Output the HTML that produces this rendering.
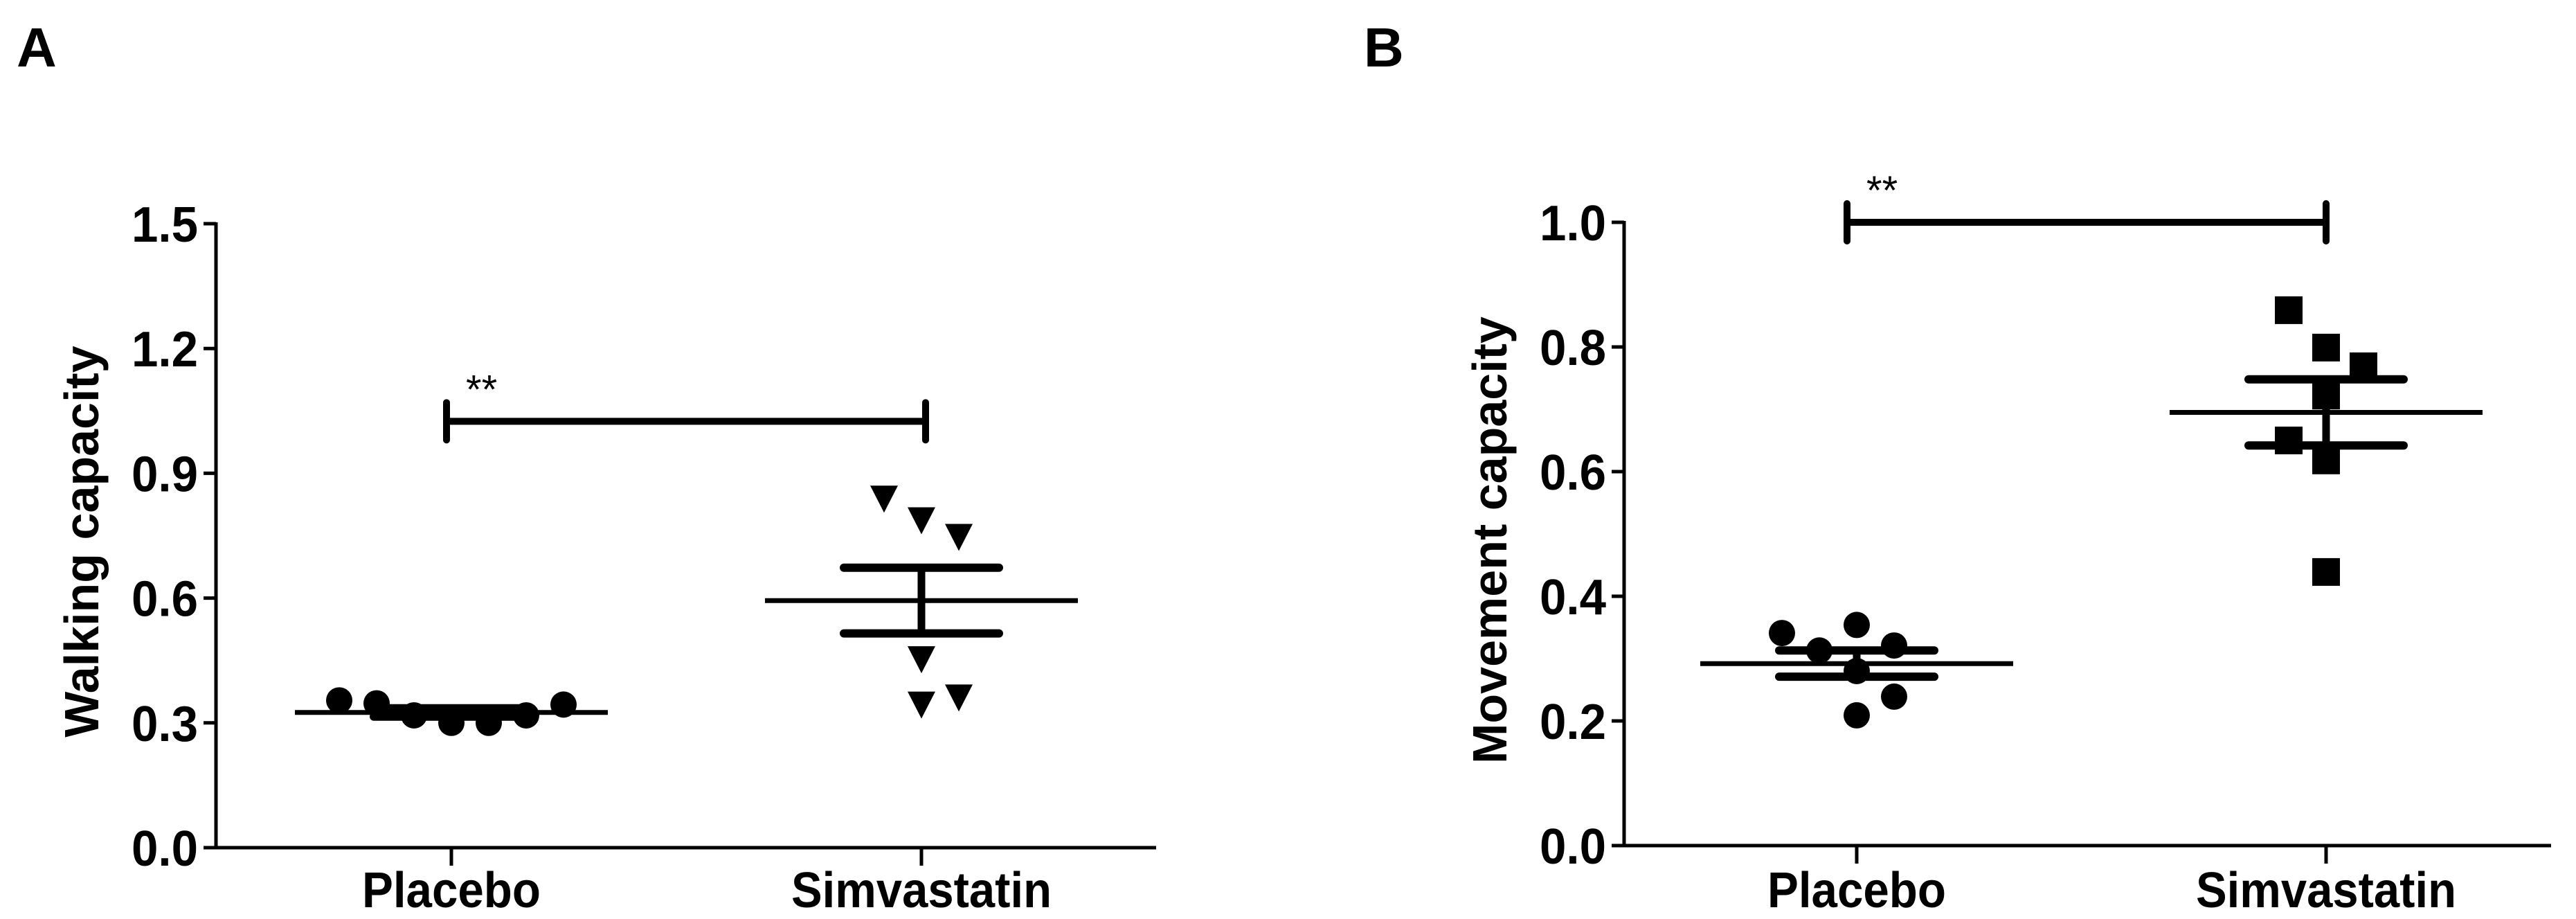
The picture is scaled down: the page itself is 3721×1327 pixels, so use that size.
<!DOCTYPE html>
<html><head><meta charset="utf-8"><style>
html,body{margin:0;padding:0;background:#fff}
svg{display:block}
text{font-family:"Liberation Sans",Arial,sans-serif;fill:#000}
</style></head><body>
<svg id="fig" width="3721" height="1327" viewBox="0 0 3721 1327" xmlns="http://www.w3.org/2000/svg">
<text x="24" y="96" font-size="80" font-weight="bold">A</text>
<text x="1970" y="96" font-size="80" font-weight="bold">B</text>
<text transform="translate(142,782) rotate(-90)" text-anchor="middle" font-size="70" font-weight="bold">Walking capacity</text>
<text transform="translate(2176,780) rotate(-90)" text-anchor="middle" font-size="70" font-weight="bold">Movement capacity</text>
</svg>
<script>
const categories = ["Placebo", "Simvastatin"];
const aTicks = [0.0, 0.3, 0.6, 0.9, 1.2, 1.5];
const aTickLabels = ["0.0", "0.3", "0.6", "0.9", "1.2", "1.5"];
const aPlacebo = [0.354, 0.347, 0.318, 0.300, 0.300, 0.318, 0.344];
const aPlaceboOffsets = [-3, -2, -1, 0, 1, 2, 3];
const aSimva = [0.842, 0.790, 0.750, 0.456, 0.364, 0.347];
const aSimvaOffsets = [-1, 0, 1, 0, 1, 0];
const aMean = [0.325, 0.594];
const aSem = [0.010, 0.079];
const aSig = 1.025;

const bTicks = [0.0, 0.2, 0.4, 0.6, 0.8, 1.0];
const bTickLabels = ["0.0", "0.2", "0.4", "0.6", "0.8", "1.0"];
const bPlacebo = [0.341, 0.313, 0.354, 0.321, 0.280, 0.239, 0.209];
const bPlaceboOffsets = [-2, -1, 0, 1, 0, 1, 0];
const bSimva = [0.859, 0.799, 0.769, 0.722, 0.650, 0.618, 0.439];
const bSimvaOffsets = [-1, 0, 1, 0, -1, 0, 0];
const bMean = [0.292, 0.695];
const bSem = [0.021, 0.053];
const bSig = 1.0;

const svg = document.getElementById('fig');
const NS = "http://www.w3.org/2000/svg";
function mk(tag, attrs, parent) {
  const e = document.createElementNS(NS, tag);
  for (const k in attrs) e.setAttribute(k, attrs[k]);
  (parent || svg).appendChild(e);
  return e;
}

function panel(cfg) {
  const g = mk('g', {});
  
  
  const y = v => cfg.y0 - (v - cfg.vmin) / (cfg.vmax - cfg.vmin) * (cfg.y0 - cfg.y1);
  const xc = i => cfg.xCats[i];
  const ya = mk('line', {x1: cfg.ax, y1: y(cfg.vmax) - 2, x2: cfg.ax, y2: cfg.y0 + 2, stroke: '#000', 'stroke-width': 5}, g);
  
  
  const xa = mk('line', {x1: cfg.ax - 2, y1: cfg.y0, x2: cfg.xEnd, y2: cfg.y0, stroke: '#000', 'stroke-width': 5}, g);
  
  
  cfg.ticks.forEach((t, i) => {
    const tl = mk('line', {x1: cfg.ax - 18, y1: y(t), x2: cfg.ax, y2: y(t), stroke: '#000', 'stroke-width': 5}, g);
    
    
    const tx = mk('text', {x: cfg.ax - 26, y: y(t) + 26, 'text-anchor': 'end', 'font-size': 72, 'font-weight': 'bold', textLength: 96, lengthAdjust: 'spacingAndGlyphs'}, g);
    tx.textContent = cfg.tickLabels[i];
    
    
  });
  categories.forEach((c, i) => {
    const tl = mk('line', {x1: xc(i), y1: cfg.y0, x2: xc(i), y2: cfg.y0 + 26, stroke: '#000', 'stroke-width': 5}, g);
    
    
    const tx = mk('text', {x: xc(i), y: 1310, 'text-anchor': 'middle', 'font-size': 72, 'font-weight': 'bold', textLength: i === 0 ? 258 : 376, lengthAdjust: 'spacingAndGlyphs'}, g);
    tx.textContent = c;
    
    
  });
  cfg.pl.forEach((v, k) => {
    const p = mk('circle', {cx: xc(0) + cfg.plOff[k] * 54, cy: y(v), r: 19, fill: '#000'}, g);
    
    
  });
  cfg.sv.forEach((v, k) => {
    const cx = xc(1) + cfg.svOff[k] * 54, cy = y(v);
    let p;
    if (cfg.marker === 'tri') {
      p = mk('polygon', {points: `${cx-20},${cy-17} ${cx+20},${cy-17} ${cx},${cy+22}`, fill: '#000'}, g);
    } else {
      p = mk('rect', {x: cx - 20, y: cy - 20, width: 40, height: 40, fill: '#000'}, g);
    }
    
    
  });
  [0, 1].forEach(i => {
    const m = mk('line', {x1: xc(i) - 226, y1: y(cfg.mean[i]), x2: xc(i) + 226, y2: y(cfg.mean[i]), stroke: '#000', 'stroke-width': 7}, g);
    
    
    const hi = cfg.mean[i] + cfg.sem[i], lo = cfg.mean[i] - cfg.sem[i];
    const v = mk('line', {x1: xc(i), y1: y(hi), x2: xc(i), y2: y(lo), stroke: '#000', 'stroke-width': 11}, g);
    
    
    [hi, lo].forEach(s => {
      const c = mk('line', {x1: xc(i) - 112, y1: y(s), x2: xc(i) + 112, y2: y(s), stroke: '#000', 'stroke-width': 12, 'stroke-linecap': 'round'}, g);
      
      
    });
  });
  const sy = y(cfg.sig);
  const sb = mk('path', {d: `M${cfg.sigX[0]},${sy} H${cfg.sigX[1]} M${cfg.sigX[0]},${sy-27} V${sy+27} M${cfg.sigX[1]},${sy-27} V${sy+27}`, stroke: '#000', 'stroke-width': 10, 'stroke-linecap': 'round', fill: 'none'}, g);
  
  
  const st = mk('text', {x: cfg.sigX[0] + 28, y: sy - 26, 'font-size': 58}, g);
  st.textContent = '**';
  
  
}

panel({name: 'panel-a-walking', ax: 312, y0: 1224, y1: 323, vmin: 0, vmax: 1.5, xEnd: 1670, xCats: [652, 1331],
  ticks: aTicks, tickLabels: aTickLabels, pl: aPlacebo, plOff: aPlaceboOffsets, sv: aSimva, svOff: aSimvaOffsets,
  marker: 'tri', mean: aMean, sem: aSem, sig: aSig, sigX: [645, 1337]});
panel({name: 'panel-b-movement', ax: 2346, y0: 1221, y1: 321, vmin: 0, vmax: 1.0, xEnd: 3685, xCats: [2682, 3360],
  ticks: bTicks, tickLabels: bTickLabels, pl: bPlacebo, plOff: bPlaceboOffsets, sv: bSimva, svOff: bSimvaOffsets,
  marker: 'sq', mean: bMean, sem: bSem, sig: bSig, sigX: [2668, 3360]});
</script>
</body></html>
